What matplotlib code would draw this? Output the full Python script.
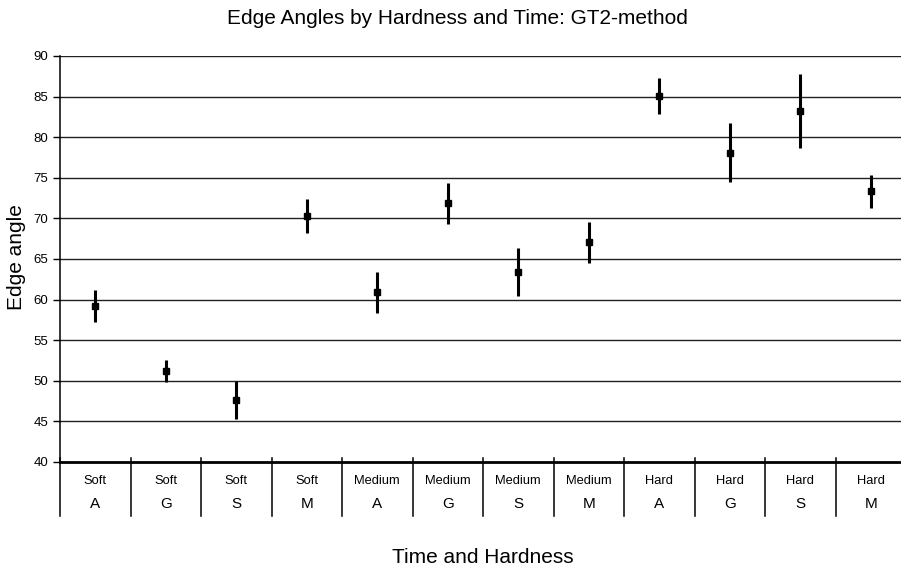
import matplotlib
matplotlib.use("Agg")
import matplotlib.pyplot as plt
import matplotlib.transforms as mtransforms
import numpy as np

plt.rcParams['font.family'] = ['Liberation Sans', 'DejaVu Sans']

hardness = ["Soft", "Soft", "Soft", "Soft", "Medium", "Medium", "Medium", "Medium",
            "Hard", "Hard", "Hard", "Hard"]
time_labels = ["A", "G", "S", "M", "A", "G", "S", "M", "A", "G", "S", "M"]
means = [59.2, 51.2, 47.6, 70.3, 60.9, 71.85, 63.4, 67.05, 85.1, 78.1, 83.2, 73.35]
errors = [2.0, 1.3, 2.35, 2.1, 2.5, 2.55, 2.9, 2.55, 2.2, 3.6, 4.55, 2.05]
yticks = [40, 45, 50, 55, 60, 65, 70, 75, 80, 85, 90]

W, H = 901, 568
fig = plt.figure(figsize=(W / 100, H / 100), dpi=100)
left, right, top, bottom = 60, 906, 56, 462
ax = fig.add_axes([left / W, 1 - bottom / H, (right - left) / W, (bottom - top) / H])

x = np.arange(len(means))
ax.set_xlim(-0.5, len(means) - 0.5)
ax.set_ylim(40, 90)

for yv in yticks[1:]:
    ax.axhline(yv, color='#222222', lw=1.0, zorder=1)

ax.errorbar(x, means, yerr=errors, fmt='s', color='black', ecolor='black',
            elinewidth=2.2, markersize=4.5, capsize=0, zorder=3)

for s in ['top', 'right']:
    ax.spines[s].set_visible(False)
ax.spines['bottom'].set_linewidth(2.0)
ax.spines['left'].set_linewidth(1.1)

ax.set_yticks(yticks)
ax.set_yticklabels([str(v) for v in yticks])
ax.tick_params(axis='y', length=5, width=1, pad=3.5, labelsize=9.5)
ax.set_xticks([])

h_ax = bottom - top
trans = mtransforms.blended_transform_factory(ax.transData, ax.transAxes)
y_top_sep = (bottom - 458) / h_ax
y_bot_sep = (bottom - 516) / h_ax
for b in np.arange(-0.5, len(means), 1.0):
    ax.plot([b, b], [y_top_sep, y_bot_sep], color='black', lw=1.1,
            transform=trans, clip_on=False, zorder=4)

y_h = (bottom - 484.3) / h_ax
y_t = (bottom - 508.3) / h_ax
for i in range(len(means)):
    ax.text(x[i], y_h, hardness[i], transform=trans, ha='center', va='baseline',
            fontsize=9.3)
    ax.text(x[i], y_t, time_labels[i], transform=trans, ha='center', va='baseline',
            fontsize=11)

fig.text(457.5 / W, 1 - 24 / H, "Edge Angles by Hardness and Time: GT2-method",
         ha='center', va='baseline', fontsize=15)
fig.text(17 / W, 1 - 257.5 / H, "Edge angle", rotation=90, ha='center',
         va='center', fontsize=15)
fig.text(483 / W, 1 - 563.3 / H, "Time and Hardness", ha='center',
         va='baseline', fontsize=15)

fig.savefig("out.png", dpi=100)
